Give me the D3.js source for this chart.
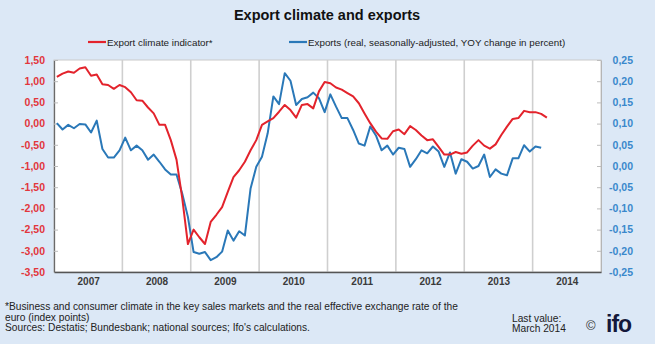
<!DOCTYPE html>
<html>
<head>
<meta charset="utf-8">
<script src="https://cdn.jsdelivr.net/npm/d3@7"></script>
<style>
  html, body { margin: 0; padding: 0; background: #dce8f6; }
  svg { display: block; font-family: "Liberation Sans", Arial, sans-serif; }
</style>
</head>
<body>
<svg id="chart" width="655" height="344"></svg>
<script>
// Monthly series, Jan 2007 onwards
const startYear = 2007;
const years = [2007, 2008, 2009, 2010, 2011, 2012, 2013, 2014];

// Export climate indicator (index points), Jan 2007 – Mar 2014
const climateValues = [
  1.10, 1.18, 1.23, 1.20, 1.30, 1.33, 1.13, 1.16, 0.93, 0.91, 0.82, 0.91,
  0.86, 0.74, 0.55, 0.54, 0.38, 0.24, -0.03, -0.03, -0.39, -0.85, -1.75, -2.84,
  -2.50, -2.68, -2.84, -2.32, -2.15, -1.97, -1.61, -1.26, -1.10, -0.90, -0.63, -0.39,
  -0.03, 0.05, 0.13, 0.28, 0.44, 0.32, 0.14, 0.44, 0.46, 0.36, 0.76, 0.98,
  0.95, 0.85, 0.80, 0.72, 0.64, 0.48, 0.24, 0.01, -0.19, -0.35, -0.36, -0.18,
  -0.14, -0.25, -0.06, -0.15, -0.28, -0.39, -0.37, -0.55, -0.73, -0.73, -0.67, -0.71,
  -0.68, -0.52, -0.39, -0.52, -0.59, -0.49, -0.27, -0.07, 0.11, 0.13, 0.30, 0.27,
  0.27, 0.23, 0.14
];

// Exports, real, seasonally adjusted, YOY change, Jan 2007 – Feb 2014
const exportsValues = [
  0.101, 0.086, 0.097, 0.089, 0.099, 0.098, 0.079, 0.107, 0.040, 0.020, 0.020, 0.037,
  0.067, 0.037, 0.048, 0.037, 0.015, 0.027, 0.010, -0.008, -0.020, -0.020, -0.065, -0.120,
  -0.203, -0.207, -0.203, -0.222, -0.215, -0.202, -0.152, -0.176, -0.154, -0.164, -0.053, -0.002,
  0.022, 0.077, 0.164, 0.146, 0.219, 0.201, 0.144, 0.158, 0.162, 0.173, 0.160, 0.127,
  0.169, 0.140, 0.113, 0.113, 0.085, 0.053, 0.048, 0.093, 0.072, 0.037, 0.048, 0.027,
  0.043, 0.040, -0.002, 0.016, 0.037, 0.030, 0.046, 0.034, -0.002, 0.032, -0.018, 0.016,
  0.010, -0.006, 0.000, 0.027, -0.026, -0.008, -0.018, -0.022, 0.018, 0.018, 0.049, 0.034,
  0.046, 0.043
];

const leftTicks = [1.5, 1.0, 0.5, 0, -0.5, -1.0, -1.5, -2.0, -2.5, -3.0, -3.5];
const rightTicks = [0.25, 0.20, 0.15, 0.10, 0.05, 0, -0.05, -0.10, -0.15, -0.20, -0.25];

const titleText = "Export climate and exports";
const legendLabels = ["Export climate indicator*", "Exports (real, seasonally-adjusted, YOY change in percent)"];
const footnoteLines = [
  "*Business and consumer climate in the key sales markets and the real effective exchange rate of the",
  "euro (index points)",
  "Sources: Destatis; Bundesbank; national sources; Ifo's calculations."
];
const lastValueLines = ["Last value:", "March 2014"];

const red = "#e3232c";
const blue = "#2a78b8";

const svg = d3.select("#chart");
const plot = { left: 54, right: 601, top: 60, bottom: 272 };

const fmt = d3.formatLocale({ decimal: ",", thousands: ".", grouping: [3], currency: ["", ""], minus: "-" }).format(".2f");

const x = d3.scaleLinear().domain([startYear, startYear + years.length]).range([plot.left, plot.right]);
const yL = d3.scaleLinear().domain([-3.5, 1.5]).range([plot.bottom, plot.top]);
const yR = d3.scaleLinear().domain([-0.25, 0.25]).range([plot.bottom, plot.top]);
const monthX = i => x(startYear + (i + 0.5) / 12);

// background + plot area
svg.append("rect").attr("width", 655).attr("height", 344).attr("fill", "#dce8f6");
svg.append("rect")
  .attr("x", plot.left).attr("y", plot.top)
  .attr("width", plot.right - plot.left).attr("height", plot.bottom - plot.top)
  .attr("fill", "#ffffff").attr("stroke", "#c9c9c9").attr("stroke-width", 1);

// vertical separators between years
svg.append("g").selectAll("line")
  .data(years.slice(1))
  .join("line")
  .attr("x1", d => x(d)).attr("x2", d => x(d))
  .attr("y1", plot.top).attr("y2", plot.bottom)
  .attr("stroke", "#cfcfcf").attr("stroke-width", 1.6);

// left axis
const gL = svg.append("g").attr("transform", `translate(${plot.left},0)`)
  .call(d3.axisLeft(yL).tickValues(leftTicks).tickFormat(fmt).tickSizeInner(-4).tickSizeOuter(0).tickPadding(9));
gL.select(".domain").attr("stroke", "#6a6a6a").attr("stroke-width", 1.3);
gL.selectAll(".tick line").attr("stroke", "#bdbdbd");
gL.selectAll(".tick text").attr("fill", "#e2363c").attr("font-size", "10.5px").attr("font-weight", "bold")
  .attr("font-family", "Liberation Sans, Arial, sans-serif");

// right axis
const gR = svg.append("g").attr("transform", `translate(${plot.right},0)`)
  .call(d3.axisRight(yR).tickValues(rightTicks).tickFormat(fmt).tickSizeInner(-4).tickSizeOuter(0));
gR.select(".domain").attr("stroke", "#b5b5b5").attr("stroke-width", 1);
gR.selectAll(".tick line").attr("stroke", "#bdbdbd");
gR.selectAll(".tick text").attr("x", 32).attr("text-anchor", "end")
  .attr("fill", "#3a88cc").attr("font-size", "10.5px").attr("font-weight", "bold")
  .attr("font-family", "Liberation Sans, Arial, sans-serif");

// bottom axis with year labels centred in each year
const gB = svg.append("g").attr("transform", `translate(0,${plot.bottom})`)
  .call(d3.axisBottom(x).tickValues(years.map(y => y + 0.5)).tickFormat(d => String(Math.floor(d)))
    .tickSize(0).tickPadding(6));
gB.select(".domain").attr("stroke", "#555555").attr("stroke-width", 1.6);
gB.selectAll(".tick text").attr("fill", "#3a3a3a").attr("font-size", "10px").attr("font-weight", "bold")
  .attr("font-family", "Liberation Sans, Arial, sans-serif");

// series
const lineL = d3.line().x((d, i) => monthX(i)).y(d => yL(d));
const lineR = d3.line().x((d, i) => monthX(i)).y(d => yR(d));

svg.append("path").datum(exportsValues)
  .attr("d", lineR).attr("fill", "none").attr("stroke", blue)
  .attr("stroke-width", 2).attr("stroke-linejoin", "round");
svg.append("path").datum(climateValues)
  .attr("d", lineL).attr("fill", "none").attr("stroke", red)
  .attr("stroke-width", 2).attr("stroke-linejoin", "round");

// title
svg.append("text").attr("x", 327).attr("y", 20).attr("text-anchor", "middle")
  .attr("font-size", "14.5px").attr("font-weight", "bold").attr("fill", "#111")
  .text(titleText);

// legend
const legend = svg.append("g").attr("font-size", "9.8px").attr("fill", "#222");
const legendItems = [
  { x: 88, color: red, label: legendLabels[0] },
  { x: 289, color: blue, label: legendLabels[1] }
];
legendItems.forEach(it => {
  legend.append("line").attr("x1", it.x).attr("x2", it.x + 18).attr("y1", 42).attr("y2", 42)
    .attr("stroke", it.color).attr("stroke-width", 2.2);
  legend.append("text").attr("x", it.x + 19).attr("y", 45.5).text(it.label);
});

// footnote
const foot = svg.append("g").attr("font-size", "10.2px").attr("fill", "#222");
footnoteLines.forEach((t, i) => {
  foot.append("text").attr("x", 5).attr("y", 310 + i * 10.6).text(t);
});
lastValueLines.forEach((t, i) => {
  foot.append("text").attr("x", 512).attr("y", 321.5 + i * 10.6).text(t);
});

// copyright mark and logo
svg.append("text").attr("x", 586).attr("y", 330).attr("font-size", "13px").attr("fill", "#333").text("©");
svg.append("text").attr("x", 606).attr("y", 332).attr("font-size", "23px").attr("font-weight", "bold")
  .attr("fill", "#14183a").attr("letter-spacing", "-1px").text("ifo");
</script>
</body>
</html>
